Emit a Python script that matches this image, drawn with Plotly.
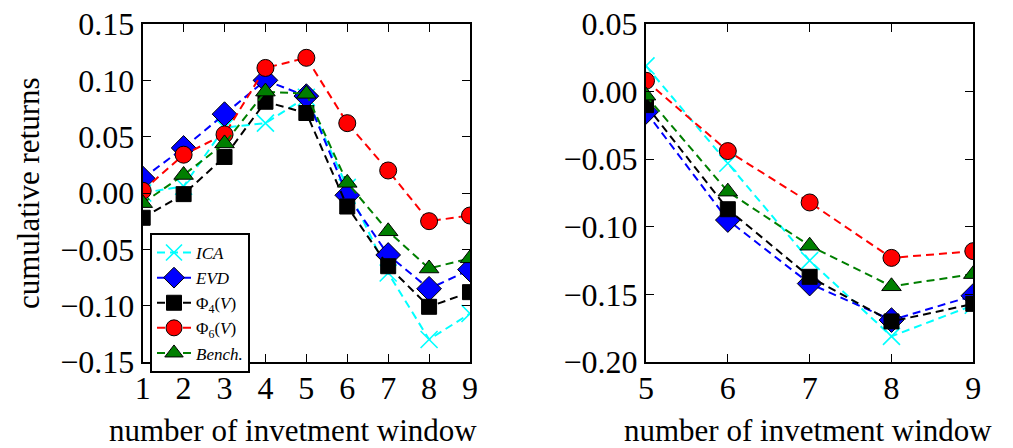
import plotly.graph_objects as go

series_names = ["<i>ICA</i>", "<i>EVD</i>", "Φ<sub>4</sub>(<i>V</i>)", "Φ<sub>6</sub>(<i>V</i>)", "<i>Bench.</i>"]

x_left = [1, 2, 3, 4, 5, 6, 7, 8, 9]
left_ica = [0.000, 0.006, 0.058, 0.062, 0.085, 0.005, -0.071, -0.130, -0.107]
left_evd = [0.013, 0.040, 0.070, 0.100, 0.086, -0.002, -0.055, -0.085, -0.068]
left_phi4 = [-0.022, -0.001, 0.032, 0.081, 0.071, -0.012, -0.065, -0.101, -0.088]
left_phi6 = [0.002, 0.034, 0.052, 0.111, 0.120, 0.062, 0.020, -0.025, -0.020]
left_bench = [-0.009, 0.016, 0.044, 0.090, 0.088, 0.009, -0.034, -0.067, -0.058]

x_right = [5, 6, 7, 8, 9]
right_ica = [0.019, -0.053, -0.125, -0.181, -0.158]
right_evd = [-0.015, -0.095, -0.142, -0.169, -0.151]
right_phi4 = [-0.010, -0.087, -0.137, -0.170, -0.157]
right_phi6 = [0.008, -0.044, -0.082, -0.123, -0.118]
right_bench = [-0.003, -0.074, -0.114, -0.144, -0.135]

colors = ["#00ffff", "#0000ff", "#000000", "#ff0000", "#007f00"]
symbols = ["x-thin", "diamond", "square", "circle", "triangle-up"]
sizes = [17, 19, 15, 17, 17]

FONT = "Liberation Serif"
W, H = 1013, 448


def px(xp):
    return xp / W


def py(yp):
    return 1 - yp / H


fig = go.Figure()

left_sets = [left_ica, left_evd, left_phi4, left_phi6, left_bench]
right_sets = [right_ica, right_evd, right_phi4, right_phi6, right_bench]

for i in range(5):
    for j, (xs, ys, xa, ya) in enumerate([(x_left, left_sets[i], "x", "y"), (x_right, right_sets[i], "x2", "y2")]):
        marker = dict(symbol=symbols[i], size=sizes[i], color=colors[i],
                      line=dict(color="black", width=1))
        if symbols[i] == "x-thin":
            marker["line"] = dict(color=colors[i], width=1.6)
        fig.add_trace(go.Scatter(
            x=xs, y=ys, xaxis=xa, yaxis=ya, mode="lines+markers",
            name=series_names[i], legendgroup=str(i), showlegend=(j == 0),
            line=dict(color=colors[i], width=2, dash="8px,5px"),
            marker=marker,
        ))

axis_common = dict(showgrid=False, zeroline=False, ticks="inside", ticklen=8, tickwidth=1.3,
                   tickcolor="black", showline=True, linecolor="black", linewidth=2,
                   mirror="ticks", automargin=False, ticklabeloverflow="allow",
                   tickfont=dict(family=FONT, size=32, color="black"))

fig.update_layout(
    width=W, height=H,
    margin=dict(l=0, r=0, t=0, b=0, autoexpand=False),
    plot_bgcolor="white", paper_bgcolor="white",
    xaxis=dict(domain=[px(142.7), px(470)], range=[1, 9], dtick=1, anchor="y",
               ticklabelstandoff=-3, **axis_common),
    yaxis=dict(domain=[py(362), py(24)], range=[-0.15, 0.15], dtick=0.05,
               tickformat=".2f", anchor="x", **axis_common),
    xaxis2=dict(domain=[px(646), px(973.3)], range=[5, 9], dtick=1, anchor="y2",
                ticklabelstandoff=-3, **axis_common),
    yaxis2=dict(domain=[py(362), py(24)], range=[-0.2, 0.05], dtick=0.05,
                tickformat=".2f", anchor="x2", **axis_common),
    legend=dict(x=px(150), y=py(233), xanchor="left", yanchor="top",
                bordercolor="black", borderwidth=2, bgcolor="white",
                font=dict(family=FONT, size=17, color="black"),
                tracegroupgap=0, itemwidth=34),
    showlegend=True,
)

for cx in (293, 808):
    fig.add_annotation(text="number of invetment window", xref="paper", yref="paper",
                       x=px(cx), y=py(430), showarrow=False, xanchor="center", yanchor="middle",
                       font=dict(family=FONT, size=31, color="black"))
fig.add_annotation(text="cumulative returns", xref="paper", yref="paper",
                   x=px(28), y=py(193), showarrow=False, textangle=-90,
                   xanchor="center", yanchor="middle",
                   font=dict(family=FONT, size=31, color="black"))

fig.write_html("out.html", config={"displayModeBar": False},
               post_script="document.body.style.margin='0px';")
